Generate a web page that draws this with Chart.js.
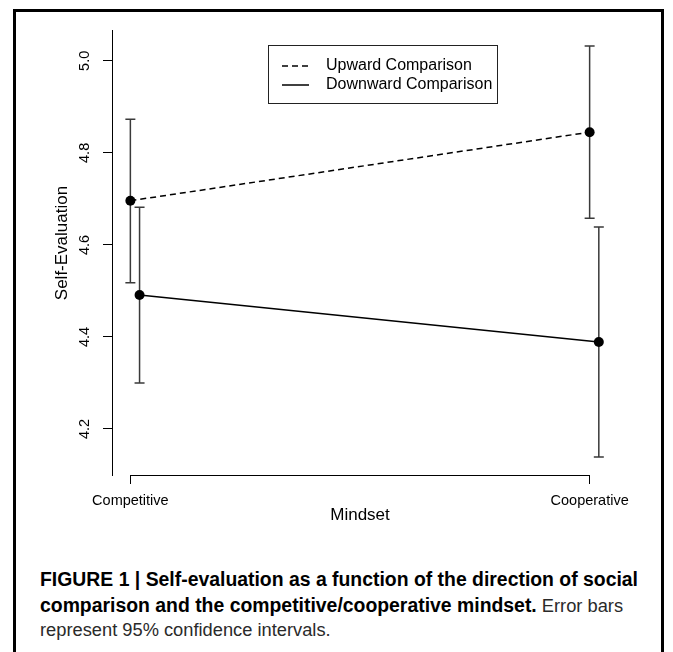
<!DOCTYPE html>
<html>
<head>
<meta charset="utf-8">
<script src="https://cdn.jsdelivr.net/npm/chart.js@4.4.0/dist/chart.umd.min.js"></script>
<style>
  body { margin: 0; background: #fff; width: 673px; height: 652px; overflow: hidden; position: relative; font-family: "Liberation Sans", Arial, sans-serif; }
  #frame { position: absolute; left: 13px; top: 9px; width: 645px; height: 700px; border: 3px solid #000; }
  #chart { position: absolute; left: 0; top: 0; }
  #caption { position: absolute; left: 40px; top: 567px; line-height: 24.5px; font-size: 18.3px; color: #2a2a2a; white-space: nowrap; }
  #caption b { font-size: 19.4px; color: #000; }
</style>
</head>
<body>
<div id="frame"></div>
<canvas id="chart" width="673" height="540"></canvas>
<div id="caption"><b>FIGURE 1 | Self-evaluation as a function of the direction of social</b><br><b>comparison and the competitive/cooperative mindset.</b> Error bars<br>represent 95% confidence intervals.</div>
<script>
const FONT = "'Liberation Sans', Arial, Helvetica, sans-serif";

// data
const categories = ['Competitive', 'Cooperative'];
const seriesNames = ['Upward Comparison', 'Downward Comparison'];
const upwardMean = [4.696, 4.845];
const upwardLow = [4.518, 4.658];
const upwardHigh = [4.873, 5.032];
const downwardMean = [4.491, 4.389];
const downwardLow = [4.300, 4.139];
const downwardHigh = [4.682, 4.639];
const yTicks = [4.2, 4.4, 4.6, 4.8, 5.0];
const xTicks = [1, 2];
const dodge = 0.02; // downward series is shifted a bit to the right

function toPoints(values, shift) {
  return values.map((v, i) => ({ x: i + 1 + shift, y: v }));
}

// vertical error bars with caps, under the points
const errorBars = {
  id: 'errorBars',
  beforeDatasetsDraw(chart) {
    const { ctx, scales: { x, y } } = chart;
    ctx.save();
    ctx.strokeStyle = '#3a3a3a';
    ctx.lineWidth = 1.5;
    chart.data.datasets.forEach(ds => {
      ds.data.forEach((p, i) => {
        const px = x.getPixelForValue(p.x);
        const top = y.getPixelForValue(ds.errHigh[i]);
        const bot = y.getPixelForValue(ds.errLow[i]);
        ctx.beginPath();
        ctx.moveTo(px, top); ctx.lineTo(px, bot);
        ctx.moveTo(px - 5, top); ctx.lineTo(px + 5, top);
        ctx.moveTo(px - 5, bot); ctx.lineTo(px + 5, bot);
        ctx.stroke();
      });
    });
    ctx.restore();
  }
};

// R style bits: x bracket, rotated y title, boxed legend
const extras = {
  id: 'extras',
  afterDraw(chart) {
    const { ctx, chartArea, scales: { x, y } } = chart;
    ctx.save();
    ctx.strokeStyle = '#000';
    ctx.lineWidth = 1;
    const yb = Math.round(chartArea.bottom) + 0.5;
    ctx.beginPath();
    ctx.moveTo(x.getPixelForValue(xTicks[0]), yb);
    ctx.lineTo(x.getPixelForValue(xTicks[xTicks.length - 1]), yb);
    ctx.stroke();

    // y title
    ctx.fillStyle = '#000';
    ctx.font = '17px ' + FONT;
    ctx.textAlign = 'center';
    ctx.textBaseline = 'middle';
    ctx.translate(62, 243);
    ctx.rotate(-Math.PI / 2);
    ctx.fillText('Self-Evaluation', 0, 0);
    ctx.setTransform(1, 0, 0, 1, 0, 0);

    // legend
    ctx.strokeStyle = '#222';
    ctx.strokeRect(268.5, 45.5, 229, 58);
    ctx.font = '16px ' + FONT;
    ctx.textAlign = 'left';
    chart.data.datasets.forEach((ds, i) => {
      const ly = 66 + i * 19;
      ctx.strokeStyle = ds.borderColor;
      ctx.lineWidth = ds.borderWidth;
      ctx.setLineDash(ds.borderDash || []);
      ctx.beginPath();
      ctx.moveTo(282, ly);
      ctx.lineTo(309, ly);
      ctx.stroke();
      ctx.setLineDash([]);
      ctx.fillText(ds.label, 326, ly);
    });
    ctx.restore();
  }
};

new Chart(document.getElementById('chart'), {
  type: 'scatter',
  data: {
    datasets: [{
      label: seriesNames[0],
      data: toPoints(upwardMean, 0),
      errLow: upwardLow,
      errHigh: upwardHigh,
      showLine: true,
      borderColor: '#000',
      borderWidth: 1.5,
      borderDash: [6, 4],
      pointRadius: 5,
      pointBorderWidth: 0,
      pointBackgroundColor: '#000'
    }, {
      label: seriesNames[1],
      data: toPoints(downwardMean, dodge),
      errLow: downwardLow,
      errHigh: downwardHigh,
      showLine: true,
      borderColor: '#000',
      borderWidth: 1.5,
      pointRadius: 5,
      pointBorderWidth: 0,
      pointBackgroundColor: '#000'
    }]
  },
  options: {
    responsive: false,
    animation: false,
    layout: { padding: { left: 0, right: 65, top: 30, bottom: 0 } },
    plugins: { legend: { display: false }, tooltip: { enabled: false } },
    scales: {
      x: {
        type: 'linear',
        min: 0.96,
        max: 2.04,
        afterBuildTicks: s => { s.ticks = xTicks.map(v => ({ value: v })); },
        afterFit: s => { s.height = 65; },
        border: { display: false },
        grid: { drawOnChartArea: false, drawTicks: true, tickLength: 9, color: '#000', lineWidth: 1 },
        ticks: {
          color: '#000',
          font: { size: 14.5, family: FONT },
          padding: 8,
          maxRotation: 0,
          autoSkip: false,
          callback: v => categories[v - 1]
        },
        title: {
          display: true,
          text: 'Mindset',
          color: '#000',
          font: { size: 17, family: FONT },
          padding: { top: 0, bottom: 14 }
        }
      },
      y: {
        min: 4.1,
        max: 5.067,
        afterBuildTicks: s => { s.ticks = yTicks.map(v => ({ value: v })); },
        afterFit: s => { s.width = 112; },
        border: { display: true, color: '#000', width: 1 },
        grid: { drawOnChartArea: false, drawTicks: true, tickLength: 9, color: '#000', lineWidth: 1 },
        ticks: {
          color: '#000',
          font: { size: 14.5, family: FONT },
          minRotation: 90,
          maxRotation: 90,
          crossAlign: 'center',
          padding: 7.5,
          callback: v => v.toFixed(1)
        }
      }
    }
  },
  plugins: [errorBars, extras]
});
</script>
</body>
</html>
